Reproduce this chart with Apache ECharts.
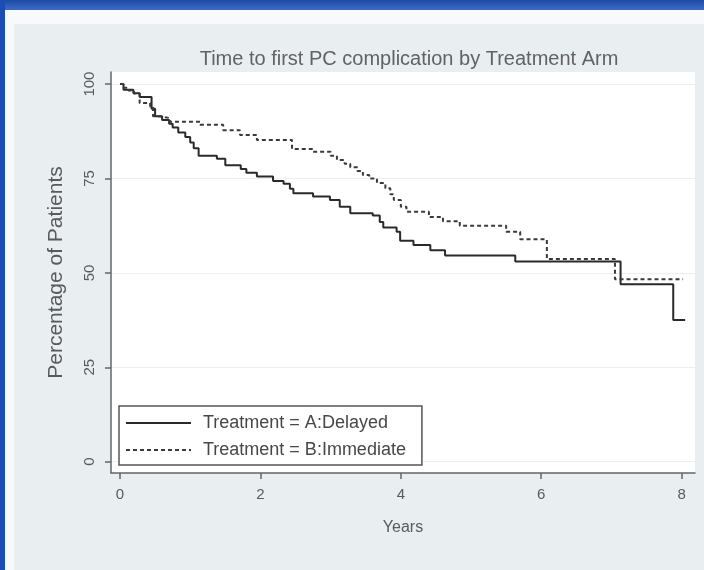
<!DOCTYPE html>
<html>
<head>
<meta charset="utf-8">
<script src="https://cdn.jsdelivr.net/npm/echarts@6/dist/echarts.min.js"></script>
<style>
html,body{margin:0;padding:0;background:#e9eef1;}
#chart{width:704px;height:570px;}
</style>
</head>
<body>
<div id="chart"></div>
<script>
// Kaplan-Meier step data [years, percentage]
var delayedTimes  = [0, 0.05, 0.19, 0.28, 0.45, 0.5, 0.6, 0.7, 0.75, 0.83, 0.93, 1.0, 1.05, 1.12, 1.38, 1.5, 1.72, 1.8, 1.95, 2.18, 2.33, 2.42, 2.47, 2.75, 2.99, 3.13, 3.28, 3.6, 3.7, 3.75, 3.94, 3.99, 4.18, 4.42, 4.63, 5.63, 7.13, 7.88, 8.05];
var delayedValues = [100, 98.5, 97.6, 96.6, 93.5, 91.5, 90.5, 89.5, 88.5, 87.2, 86, 84.5, 83, 81, 80.2, 78.5, 77.5, 76.5, 75.5, 74.3, 73.6, 72.3, 71.1, 70.2, 69.3, 67.5, 65.8, 65.2, 63.5, 62, 60.9, 58.5, 57.4, 56, 54.6, 53, 47, 37.5, 37.5];
var immediateTimes  = [0, 0.05, 0.12, 0.2, 0.28, 0.43, 0.47, 0.55, 0.71, 1.14, 1.47, 1.71, 1.95, 2.45, 2.75, 3.0, 3.09, 3.2, 3.28, 3.38, 3.46, 3.55, 3.66, 3.78, 3.85, 3.9, 4.0, 4.08, 4.4, 4.6, 4.84, 5.5, 5.7, 6.08, 7.05, 8.02];
var immediateValues = [100, 99, 98.3, 97.5, 95, 94, 91.5, 91, 90, 89.2, 87.8, 86.5, 85.2, 82.8, 82.1, 81, 79.9, 78.9, 78, 77, 75.9, 75, 73.8, 72.4, 70.8, 69.3, 67.5, 66.2, 64.8, 63.7, 62.5, 60.9, 58.9, 53.7, 48.3, 48.3];
var seriesNames = ['Treatment = A:Delayed', 'Treatment = B:Immediate'];
var yTicks = [0, 25, 50, 75, 100];
var xTicks = [0, 2, 4, 6, 8];
var titleText = 'Time to first PC complication by Treatment Arm';
var xName = 'Years';
var yName = 'Percentage of Patients';

function pairs(ts, vs) { return ts.map(function (t, i) { return [t, vs[i]]; }); }

var FONT = 'Liberation Sans';
var chart = echarts.init(document.getElementById('chart'), null, {renderer: 'canvas'});
chart.setOption({
  animation: false,
  backgroundColor: '#e9eef1',
  graphic: [
    {type: 'rect', z: -10, shape: {x: 0, y: 0, width: 704, height: 24}, style: {fill: '#f7f9fa'}},
    {type: 'rect', z: -10, shape: {x: 0, y: 0, width: 14, height: 570}, style: {fill: '#f7f9fa'}},
    {type: 'rect', z: -9, shape: {x: 0, y: 0, width: 704, height: 10},
      style: {fill: new echarts.graphic.LinearGradient(0, 0, 0, 1, [{offset: 0, color: '#1d4aa6'}, {offset: 1, color: '#3d6cc4'}])}},
    {type: 'rect', z: -9, shape: {x: 0, y: 0, width: 5, height: 570}, style: {fill: '#1c4db3'}}
  ],
  title: {
    text: titleText,
    left: 404, top: 44, textAlign: 'center',
    textStyle: {fontFamily: FONT, fontSize: 20, fontWeight: 'normal', color: '#626262'}
  },
  grid: {left: 111, right: 9, top: 72, bottom: 97, show: true, backgroundColor: '#ffffff', borderWidth: 0},
  legend: {
    orient: 'vertical', left: 119, top: 406,
    padding: [8, 16, 6, 6], itemGap: 9, itemWidth: 65, itemHeight: 14,
    backgroundColor: '#ffffff', borderColor: '#555', borderWidth: 1.5,
    itemStyle: {opacity: 0},
    textStyle: {fontFamily: FONT, fontSize: 18, color: '#474747', padding: [0, 0, 0, 7]},
    data: seriesNames
  },
  xAxis: {
    type: 'value', min: -0.128, max: 8.19,
    name: xName, nameLocation: 'middle', nameGap: 47,
    nameTextStyle: {fontFamily: FONT, fontSize: 16, color: '#5a5a5a'},
    axisLine: {show: true, onZero: false, lineStyle: {color: '#666', width: 1.5}},
    axisTick: {show: true, length: 6, customValues: xTicks, lineStyle: {color: '#666', width: 1.5}},
    axisLabel: {customValues: xTicks, margin: 14, fontFamily: FONT, fontSize: 15, color: '#5a5a5a'},
    splitLine: {show: false}
  },
  yAxis: {
    type: 'value', min: -3.0, max: 103.2,
    name: yName, nameLocation: 'middle', nameGap: 44,
    nameTextStyle: {fontFamily: FONT, fontSize: 21, color: '#5a5a5a'},
    axisLine: {show: true, onZero: false, lineStyle: {color: '#666', width: 1.5}},
    axisTick: {show: true, length: 6, customValues: yTicks, lineStyle: {color: '#666', width: 1.5}},
    axisLabel: {customValues: yTicks, rotate: 90, margin: 14, fontFamily: FONT, fontSize: 15, color: '#5a5a5a'},
    splitLine: {show: true, lineStyle: {color: '#eceff1', width: 1}}
  },
  series: [
    {
      name: seriesNames[0], type: 'line', step: 'end', symbol: 'none',
      data: pairs(delayedTimes, delayedValues),
      lineStyle: {color: '#2a2a2a', width: 2, type: 'solid'},
      itemStyle: {color: '#2a2a2a'}
    },
    {
      name: seriesNames[1], type: 'line', step: 'end', symbol: 'none',
      data: pairs(immediateTimes, immediateValues),
      lineStyle: {color: '#3a3a3a', width: 2, type: [4, 3]},
      itemStyle: {color: '#3a3a3a'}
    }
  ]
});
</script>
</body>
</html>
